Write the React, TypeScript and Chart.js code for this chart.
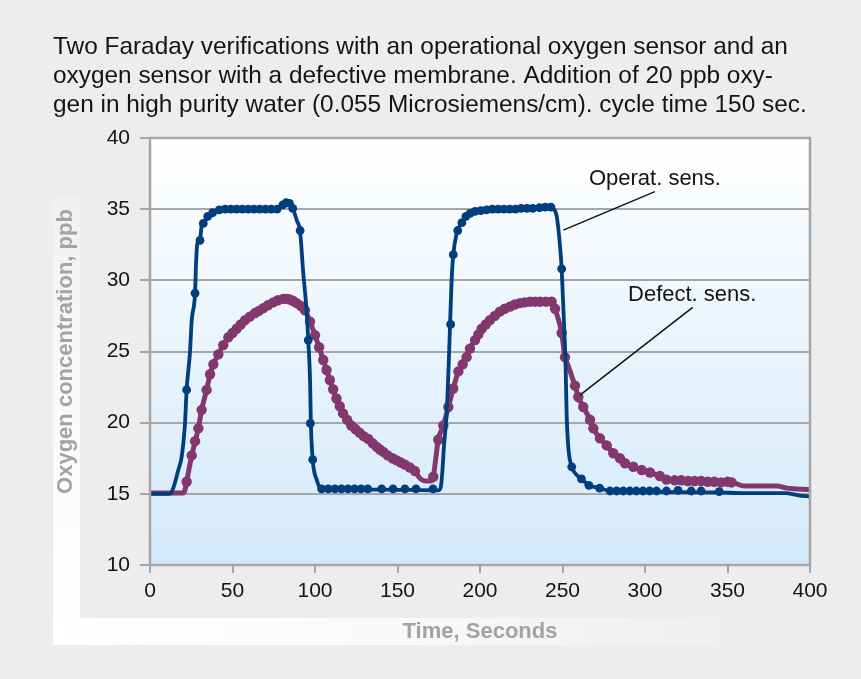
import React, { useEffect, useRef } from "react";
import { Chart, registerables } from "chart.js";

Chart.register(...registerables);

const titleLines = [
  "Two Faraday verifications with an operational oxygen sensor and an",
  "oxygen sensor with a defective membrane. Addition of 20 ppb oxy-",
  "gen in high purity water (0.055 Microsiemens/cm). cycle time 150 sec.",
];

const xTicks = [0, 50, 100, 150, 200, 250, 300, 350, 400];
const yTicks = [10, 15, 20, 25, 30, 35, 40];

// Operational sensor: traced line
const opLineX = [0, 12, 14.1, 17.2, 19.2, 21.2, 22.2, 24.2, 25.3, 27.3, 27.9, 28.7, 30.3, 31.3, 34.3, 38.4, 44.4, 60, 77, 79, 81, 83, 85, 87, 89, 90.9, 92.9, 95, 95.9, 97, 97.5, 98.6, 101, 104, 140, 175, 176.3, 177.2, 178.2, 179.8, 181, 181.8, 182.8, 183.8, 185.9, 188.9, 193, 196, 210, 230, 242.4, 244.4, 246.5, 248.5, 249.5, 250.5, 251.9, 252.5, 253.5, 255.6, 258, 261.5, 266, 272.5, 279, 300, 345, 360, 385, 393, 400];
const opLineY = [15.0, 15.0, 15.4, 16.7, 17.6, 19.95, 22.3, 24.9, 27.2, 29.1, 31.2, 32.6, 32.9, 33.8, 34.3, 34.7, 35.0, 35.0, 35.0, 35.1, 35.35, 35.5, 35.3, 34.9, 34.2, 33.5, 30.5, 27.7, 25.8, 23.0, 19.95, 17.4, 16.0, 15.35, 15.3, 15.25, 15.5, 16.6, 18.4, 20.65, 24.0, 26.7, 30.0, 31.8, 33.3, 34.0, 34.7, 34.9, 35.0, 35.05, 35.25, 35.05, 34.5, 32.4, 30.8, 28.1, 23.9, 20.65, 18.3, 16.9, 16.4, 16.05, 15.6, 15.4, 15.2, 15.15, 15.1, 15.05, 15.05, 14.9, 14.8];

// Operational sensor: measured points (markers)
const opMarkX = [22.2, 27.3, 30.3, 32.3, 35, 38, 42, 45.5, 49, 52.5, 56, 59.5, 63, 66.5, 70, 73.5, 77, 80.5, 82.5, 84.5, 86.5, 91, 95.9, 97.2, 98.6, 104, 108, 112, 116, 120, 124, 128, 132, 140.4, 147.3, 154.5, 161.2, 171.5, 182.2, 183.8, 186.5, 189, 191.5, 194, 197, 200.5, 204, 207.5, 211, 214.5, 218, 221.5, 225, 228.5, 232, 236, 239.5, 243, 249.5, 255.6, 261.5, 266, 272.5, 278.8, 282.8, 286.8, 290.8, 294.8, 298.8, 302.8, 307, 313, 320, 328, 334, 345];
const opMarkY = [22.3, 29.1, 32.8, 34.0, 34.5, 34.75, 34.95, 35.0, 35.0, 35.0, 35.0, 35.0, 35.0, 35.0, 35.0, 35.0, 35.0, 35.3, 35.45, 35.4, 35.05, 33.5, 25.8, 19.95, 17.4, 15.35, 15.35, 15.35, 15.35, 15.35, 15.35, 15.35, 15.35, 15.35, 15.35, 15.35, 15.35, 15.35, 26.9, 31.8, 33.5, 34.05, 34.5, 34.7, 34.85, 34.9, 34.95, 35.0, 35.0, 35.0, 35.0, 35.0, 35.05, 35.05, 35.05, 35.1, 35.15, 35.15, 30.8, 16.9, 16.05, 15.6, 15.4, 15.2, 15.2, 15.2, 15.2, 15.2, 15.2, 15.2, 15.2, 15.2, 15.25, 15.2, 15.2, 15.15];

// Defective sensor: traced line
const defLineX = [0, 20, 21.3, 22.2, 25.3, 29.3, 31.3, 34.3, 36.4, 38.4, 41.4, 44.4, 47.5, 52.5, 57.6, 63.6, 68.7, 74.7, 80.8, 84.8, 88.9, 93.9, 97, 100, 105, 109, 113, 117, 122, 127, 132.3, 137.4, 141.4, 149.5, 154.5, 160.6, 164, 167, 170.5, 171.7, 174.7, 177.8, 180.8, 183.8, 186.9, 191.9, 193.9, 197, 201, 206, 212, 218.2, 224.2, 230.3, 236.4, 243.4, 244.4, 245.5, 249.5, 251.5, 253.5, 255.5, 257.6, 259.6, 262.6, 266.7, 268.7, 272.7, 276.8, 280.8, 284.8, 287.9, 292.9, 298, 303, 309, 313, 318, 330, 345, 352.5, 360, 380, 386, 400];
const defLineY = [15.05, 15.05, 15.3, 15.85, 17.7, 19.6, 20.9, 22.3, 23.4, 24.1, 24.8, 25.45, 26.0, 26.6, 27.2, 27.7, 28.05, 28.45, 28.7, 28.65, 28.4, 27.9, 27.1, 26.15, 24.4, 23.0, 21.7, 20.65, 19.8, 19.3, 18.85, 18.3, 17.95, 17.35, 17.05, 16.55, 16.05, 15.9, 15.9, 16.2, 18.8, 19.8, 21.1, 22.4, 23.6, 24.6, 25.2, 25.8, 26.6, 27.2, 27.8, 28.15, 28.4, 28.5, 28.5, 28.5, 28.4, 28.0, 26.3, 24.6, 24.0, 23.3, 22.6, 21.8, 21.1, 20.2, 19.6, 18.9, 18.4, 17.85, 17.5, 17.15, 16.9, 16.67, 16.5, 16.25, 16.0, 15.95, 15.9, 15.8, 15.8, 15.55, 15.55, 15.4, 15.3];

// Defective sensor: measured points (markers)
const defMarkX = [22.2, 25.3, 27.3, 29.3, 31.3, 34.3, 36.4, 38.4, 41.4, 44.4, 47.5, 50, 52.5, 55, 57.6, 60.5, 63.6, 66, 68.7, 71.5, 74.7, 77.5, 80.8, 83, 84.8, 86.8, 88.9, 91.5, 93.9, 97, 100, 102.5, 105, 107, 109, 111, 113, 115, 117, 119.5, 122, 124.5, 127, 129.5, 132.3, 135, 137.4, 139.5, 141.4, 144, 147, 149.5, 152, 154.5, 157.5, 160.6, 171.7, 174.7, 177.8, 180.8, 183.8, 186.9, 189.5, 191.9, 193.9, 197, 199, 201, 203.5, 206, 209, 212, 215, 218.2, 221, 224.2, 227, 230.3, 233.5, 236.4, 240, 243.4, 245.5, 249.5, 251.5, 257.6, 259.6, 262.6, 266.7, 268.7, 272.7, 276.8, 280.8, 284.8, 287.9, 292.9, 298, 303, 309, 313, 318, 322, 326, 330, 334, 338, 342, 346, 350, 352.5];
const defMarkY = [15.85, 17.7, 18.7, 19.6, 20.9, 22.3, 23.4, 24.1, 24.8, 25.45, 26.0, 26.3, 26.6, 26.9, 27.2, 27.45, 27.7, 27.85, 28.05, 28.25, 28.45, 28.6, 28.7, 28.7, 28.65, 28.55, 28.4, 28.2, 27.9, 27.1, 26.15, 25.3, 24.4, 23.7, 23.0, 22.35, 21.7, 21.15, 20.65, 20.2, 19.8, 19.55, 19.3, 19.05, 18.85, 18.55, 18.3, 18.1, 17.95, 17.7, 17.5, 17.35, 17.2, 17.05, 16.85, 16.6, 16.2, 18.8, 19.8, 21.1, 22.4, 23.6, 24.1, 24.6, 25.2, 25.8, 26.2, 26.6, 26.9, 27.2, 27.5, 27.8, 28.0, 28.15, 28.3, 28.4, 28.45, 28.5, 28.5, 28.5, 28.5, 28.5, 28.0, 26.3, 24.6, 22.6, 21.8, 21.1, 20.2, 19.6, 18.9, 18.4, 17.85, 17.5, 17.15, 16.9, 16.67, 16.5, 16.25, 16.0, 15.95, 15.95, 15.9, 15.9, 15.9, 15.85, 15.85, 15.8, 15.85, 15.8];

// Callout labels: text anchor (x, y) and leader line from (x1, y1) to (x2, y2), in data units
const calloutText = ["Operat. sens.", "Defect. sens."];
const calloutAnchorX = [266, 289.7];
const calloutAnchorY = [37.15, 28.95];
const leaderX1 = [306, 328.9];
const leaderY1 = [36.23, 28.1];
const leaderX2 = [250.5, 260.6];
const leaderY2 = [33.53, 21.94];

const FONT = '"Liberation Sans", Arial, Helvetica, sans-serif';
const BLUE = "#003e7e";
const PURPLE = "#82376f";

const zip = (xs: number[], ys: number[]) => xs.map((x, i) => ({ x, y: ys[i] }));

export default function App() {
  const ref = useRef<HTMLCanvasElement>(null);

  useEffect(() => {
    document.body.style.margin = "0";
    document.body.style.background = "#ededed";
    const canvas = ref.current!;

    const decor = {
      id: "decor",
      beforeDraw(chart: any) {
        const { ctx, chartArea: a, width, height } = chart;
        ctx.save();
        ctx.fillStyle = "#ededed";
        ctx.fillRect(0, 0, width, height);
        // white L-shaped axis-title panel
        let g = ctx.createLinearGradient(0, 645, 0, 197);
        g.addColorStop(0, "#ffffff");
        g.addColorStop(0.6, "#f9f9f9");
        g.addColorStop(1, "#f0f0f0");
        ctx.fillStyle = g;
        ctx.fillRect(53, 197, 27, 448);
        g = ctx.createLinearGradient(53, 0, 720, 0);
        g.addColorStop(0, "#ffffff");
        g.addColorStop(0.4, "#fbfbfb");
        g.addColorStop(1, "#efefef");
        ctx.fillStyle = g;
        ctx.fillRect(53, 618, 667, 27);
        // plot background
        g = ctx.createLinearGradient(0, a.top, 0, a.bottom);
        g.addColorStop(0, "#ffffff");
        g.addColorStop(1, "#d3e9fa");
        ctx.fillStyle = g;
        ctx.fillRect(a.left, a.top, a.right - a.left, a.bottom - a.top);
        // title
        ctx.fillStyle = "#141414";
        ctx.font = `24.4px ${FONT}`;
        ctx.textAlign = "left";
        ctx.textBaseline = "alphabetic";
        const baselines = [54, 83, 112];
        titleLines.forEach((t, i) => ctx.fillText(t, 53, baselines[i]));
        ctx.restore();
      },
      afterDraw(chart: any) {
        const { ctx, chartArea: a, scales } = chart;
        const xs = scales.x;
        const ys = scales.y;
        ctx.save();
        ctx.strokeStyle = "#a6a6a6";
        ctx.lineWidth = 2.5;
        ctx.strokeRect(a.left, a.top, a.right - a.left, a.bottom - a.top);
        ctx.strokeStyle = "#111111";
        ctx.lineWidth = 1.5;
        ctx.fillStyle = "#141414";
        ctx.font = `22px ${FONT}`;
        ctx.textAlign = "left";
        ctx.textBaseline = "middle";
        calloutText.forEach((t, i) => {
          ctx.beginPath();
          ctx.moveTo(xs.getPixelForValue(leaderX1[i]), ys.getPixelForValue(leaderY1[i]));
          ctx.lineTo(xs.getPixelForValue(leaderX2[i]), ys.getPixelForValue(leaderY2[i]));
          ctx.stroke();
          ctx.fillText(t, xs.getPixelForValue(calloutAnchorX[i]), ys.getPixelForValue(calloutAnchorY[i]));
        });
        ctx.restore();
      },
    };

    const chart = new Chart(canvas, {
      type: "scatter",
      data: {
        datasets: [
          {
            label: "Operat. sens.",
            data: zip(opLineX, opLineY),
            showLine: true,
            borderColor: BLUE,
            borderWidth: 3.8,
            pointRadius: 0,
            cubicInterpolationMode: "monotone",
            order: 1,
          },
          {
            label: "Operat. sens. points",
            data: zip(opMarkX, opMarkY),
            showLine: false,
            pointRadius: 4.4,
            pointBackgroundColor: BLUE,
            pointBorderWidth: 0,
            order: 0,
          },
          {
            label: "Defect. sens.",
            data: zip(defLineX, defLineY),
            showLine: true,
            borderColor: PURPLE,
            borderWidth: 5,
            pointRadius: 0,
            cubicInterpolationMode: "monotone",
            order: 3,
          },
          {
            label: "Defect. sens. points",
            data: zip(defMarkX, defMarkY),
            showLine: false,
            pointRadius: 5.2,
            pointBackgroundColor: PURPLE,
            pointBorderWidth: 0,
            order: 2,
          },
        ],
      },
      options: {
        animation: false,
        responsive: false,
        devicePixelRatio: 1,
        layout: { padding: { left: 53, right: 51, top: 138, bottom: 34 } },
        plugins: {
          legend: { display: false },
          tooltip: { enabled: false },
        },
        scales: {
          x: {
            type: "linear",
            min: 0,
            max: 400,
            afterBuildTicks: (s: any) => {
              s.ticks = xTicks.map((v) => ({ value: v }));
            },
            afterFit: (s: any) => {
              s.height = 80;
            },
            ticks: {
              font: { size: 21, family: FONT },
              color: "#141414",
              padding: 6,
              maxRotation: 0,
            },
            grid: {
              drawOnChartArea: false,
              drawTicks: true,
              tickLength: 8,
              color: "#a6a6a6",
              lineWidth: 2,
            },
            border: { display: false },
            title: {
              display: true,
              text: "Time, Seconds",
              color: "#a3a3a3",
              font: { size: 22, weight: "bold", family: FONT },
              padding: { top: 0, bottom: 0 },
            },
          },
          y: {
            type: "linear",
            min: 10,
            max: 40,
            afterBuildTicks: (s: any) => {
              s.ticks = yTicks.map((v) => ({ value: v }));
            },
            afterFit: (s: any) => {
              s.width = 97;
            },
            ticks: {
              font: { size: 21, family: FONT },
              color: "#141414",
              padding: 10,
            },
            grid: {
              drawTicks: true,
              tickLength: 10,
              color: "#a6a6a6",
              lineWidth: 2,
            },
            border: { display: false },
            title: {
              display: true,
              text: "Oxygen concentration, ppb",
              color: "#a3a3a3",
              font: { size: 22, weight: "bold", family: FONT },
              padding: { top: 0, bottom: 0 },
            },
          },
        },
      },
      plugins: [decor],
    });

    return () => chart.destroy();
  }, []);

  return <canvas ref={ref} width={861} height={679} style={{ display: "block" }} />;
}
